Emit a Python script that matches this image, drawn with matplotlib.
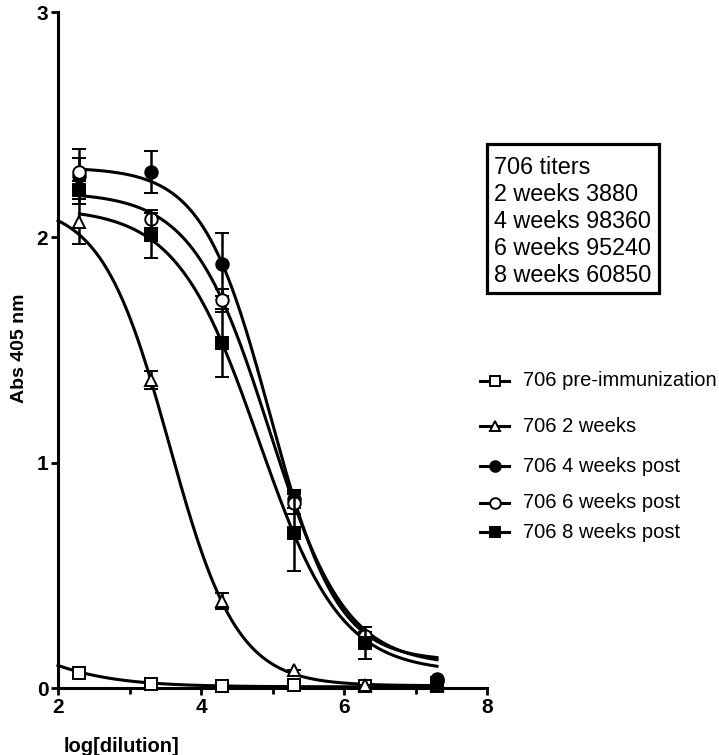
import numpy as np
import matplotlib
matplotlib.use("Agg")
import matplotlib.pyplot as plt
from matplotlib.lines import Line2D
from matplotlib.patches import Rectangle

plt.rcParams['font.family'] = ['Liberation Sans', 'DejaVu Sans']

# --- data -------------------------------------------------------------------
log_dil = [2.3, 3.3, 4.3, 5.3, 6.3, 7.3]

series_names = ['706 pre-immunization', '706 2 weeks', '706 4 weeks post',
                '706 6 weeks post', '706 8 weeks post']

pre_mean = [0.066, 0.019, 0.010, 0.014, 0.010, 0.010]
pre_err  = [0.0, 0.0, 0.0, 0.0, 0.0, 0.0]
wk2_mean = [2.07, 1.365, 0.385, 0.08, 0.015, 0.012]
wk2_err  = [0.10, 0.04, 0.035, 0.0, 0.0, 0.0]
wk4_mean = [2.27, 2.29, 1.88, 0.84, 0.22, 0.04]
wk4_err  = [0.12, 0.095, 0.14, 0.04, 0.03, 0.0]
wk6_mean = [2.29, 2.08, 1.72, 0.82, 0.23, 0.03]
wk6_err  = [0.06, 0.04, 0.05, 0.05, 0.02, 0.0]
wk8_mean = [2.21, 2.01, 1.53, 0.69, 0.20, 0.02]
wk8_err  = [0.04, 0.10, 0.15, 0.17, 0.07, 0.0]

# sigmoidal (4PL) fit parameters estimated from the drawn curves
fit_bottom = [0.005, 0.01, 0.12, 0.10, 0.07]
fit_top    = [0.50, 2.15, 2.31, 2.20, 2.13]
fit_logec  = [1.01, 3.557, 4.964, 4.95, 4.807]
fit_hill   = [0.63, 0.921, 0.923, 0.812, 0.756]
fit_xstart = [2.0, 2.0, 2.3, 2.3, 2.3]
fit_xend   = [7.3, 7.3, 7.3, 7.3, 7.3]

titer_lines = ['706 titers', '2 weeks 3880', '4 weeks 98360',
               '6 weeks 95240', '8 weeks 60850']

means = [pre_mean, wk2_mean, wk4_mean, wk6_mean, wk8_mean]
errs = [pre_err, wk2_err, wk4_err, wk6_err, wk8_err]
markers = ['s', '^', 'o', 'o', 's']
faces = ['white', 'white', 'black', 'white', 'black']
msizes = [8, 9, 9, 9, 8]

W, H = 719, 755
fig = plt.figure(figsize=(W / 100, H / 100), dpi=100)


def fx(px):
    return px / W


def fy(py):
    return 1 - py / H


ax = fig.add_axes([fx(58), fy(688), fx(487) - fx(58), fy(12) - fy(688)])

for i in range(5):
    xs = np.linspace(fit_xstart[i], fit_xend[i], 300)
    ys = fit_bottom[i] + (fit_top[i] - fit_bottom[i]) / (
        1 + 10 ** ((xs - fit_logec[i]) * fit_hill[i]))
    ax.plot(xs, ys, color='black', lw=2.2, zorder=2, clip_on=False)

for i in range(5):
    ax.errorbar(log_dil, means[i], yerr=errs[i], fmt=markers[i],
                mfc=faces[i], mec='black', ms=msizes[i], mew=1.4,
                ecolor='black', elinewidth=1.8, capsize=5, capthick=1.8,
                zorder=3 + i, clip_on=False)

ax.set_xlim(2, 8)
ax.set_ylim(0, 3)
ax.set_xticks([2, 4, 6, 8])
ax.set_xticks([3, 5, 7], minor=True)
ax.set_yticks([0, 1, 2, 3])
for s in ['top', 'right']:
    ax.spines[s].set_visible(False)
for s in ['left', 'bottom']:
    ax.spines[s].set_linewidth(2.2)
ax.tick_params(axis='both', which='major', length=5, width=2.0,
               labelsize=15, pad=2)
ax.tick_params(axis='x', which='minor', length=4, width=2.0)
for lab in ax.get_xticklabels() + ax.get_yticklabels():
    lab.set_fontweight('bold')

fig.text(fx(64), fy(752), 'log[dilution]', fontsize=14.5, fontweight='bold',
         ha='left', va='baseline')
fig.text(fx(20), fy(348), 'Abs 405 nm', fontsize=14, fontweight='bold',
         rotation=90, ha='center', va='center')

# titers box
fig.add_artist(Rectangle((fx(487), fy(293)), fx(659) - fx(487), fy(144) - fy(293),
                         transform=fig.transFigure, fill=False, lw=2.3,
                         edgecolor='black'))
for k, t in enumerate(titer_lines):
    fig.text(fx(494), fy(173.5 + 27.2 * k), t, fontsize=16.8,
             ha='left', va='baseline')

# legend, drawn entry by entry (uneven spacing as in the original)
leg_y = [381, 426, 466, 503, 532]
for i in range(5):
    y = fy(leg_y[i])
    fig.add_artist(Line2D([fx(480), fx(509)], [y, y], transform=fig.transFigure,
                          color='black', lw=2.2))
    fig.add_artist(Line2D([fx(494.5)], [y], transform=fig.transFigure,
                          marker=markers[i], mfc=faces[i], mec='black',
                          ms=msizes[i] * 0.85, mew=1.4, ls='none'))
    fig.text(fx(523), y, series_names[i], fontsize=14.5, ha='left',
             va='center')

fig.savefig('out.png', dpi=100)
